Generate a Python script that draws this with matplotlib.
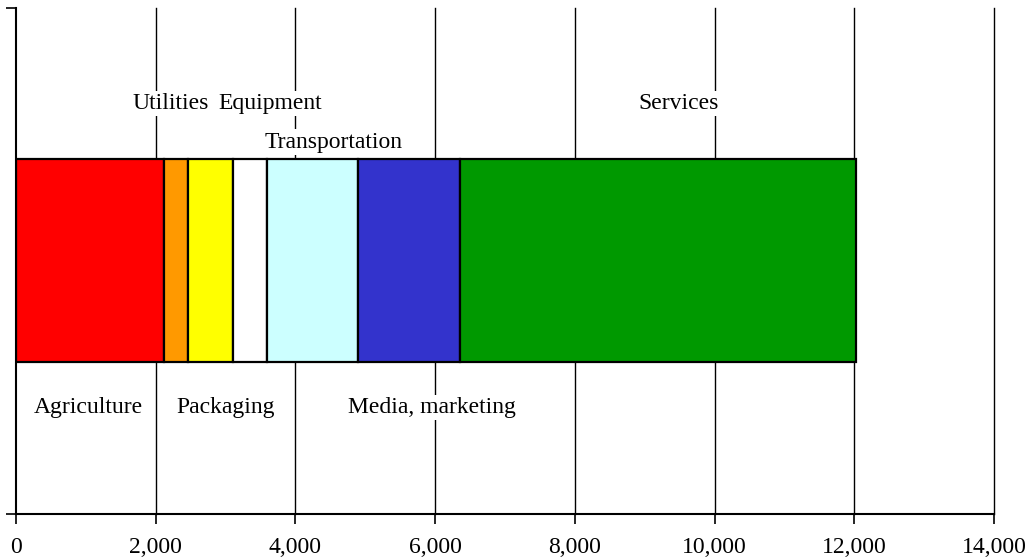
import matplotlib
matplotlib.use("Agg")
import matplotlib.pyplot as plt
import numpy as np

categories = ["Agriculture", "Utilities", "Packaging", "Equipment",
              "Transportation", "Media, marketing", "Services"]
values = [2125, 335, 645, 485, 1305, 1460, 5670]
colors = ["#FF0000", "#FF9900", "#FFFF00", "#FFFFFF", "#CCFFFF", "#3333CC", "#009900"]
xticks = [0, 2000, 4000, 6000, 8000, 10000, 12000, 14000]
xtick_labels = ["0", "2,000", "4,000", "6,000", "8,000", "10,000", "12,000", "14,000"]

# label placement (style): vertical position in axes data units and horizontal nudge in pixels
label_y = [0.21, 0.81, 0.21, 0.81, 0.734, 0.21, 0.81]
label_dx_px = [-2, -5, 15, 20, 21, 23, 21]

plt.rcParams['font.family'] = ['Liberation Serif', 'DejaVu Serif']

fig = plt.figure(figsize=(10.31, 5.59), dpi=100)
ax = fig.add_axes([16/1031, 45.5/559, 978/1031, 506/559])

ax.set_xlim(0, 14000)
ax.set_ylim(0, 1)

for x in xticks[1:]:
    ax.axvline(x, color="black", lw=1.0, zorder=0, clip_on=False)

left = 0
centers = []
for v, c in zip(values, colors):
    ax.barh(0.5, v, left=left, height=0.4, color=c, edgecolor="black",
            linewidth=1.6, zorder=2)
    centers.append(left + v / 2)
    left += v

px_per_unit = 978 / 14000
for name, cx, ly, dx in zip(categories, centers, label_y, label_dx_px):
    ax.text(cx + dx / px_per_unit, ly, name, ha="center", va="center",
            fontsize=17, zorder=3,
            bbox=dict(facecolor="white", edgecolor="none", pad=1.5))

ax.set_xticks(xticks)
ax.set_xticklabels(xtick_labels, fontsize=17)
ax.set_yticks([0, 1])
ax.set_yticklabels(["", ""])
ax.tick_params(axis="x", direction="out", length=7, width=1.2, pad=10)
ax.tick_params(axis="y", direction="out", length=7, width=1.2)

for s in ["top", "right"]:
    ax.spines[s].set_visible(False)
for s in ["left", "bottom"]:
    ax.spines[s].set_linewidth(1.5)

fig.savefig("out.png", dpi=100)
